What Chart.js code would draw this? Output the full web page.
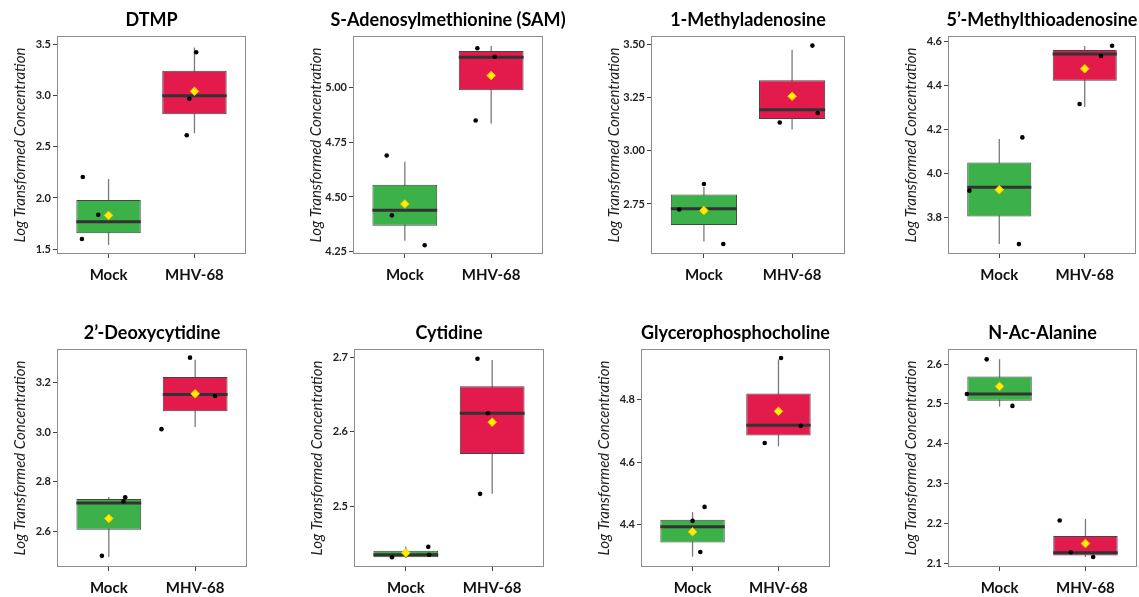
<!DOCTYPE html>
<html>
<head>
<meta charset="utf-8">
<script src="https://cdn.jsdelivr.net/npm/chart.js@4.4.1/dist/chart.umd.min.js"></script>
<style>
  html, body { margin: 0; padding: 0; background: #fff; overflow: hidden; }
  .panel { position: absolute; }
</style>
</head>
<body>
<script>
const groups = ['Mock', 'MHV-68'];
const metabolites = ['DTMP', 'S-Adenosylmethionine (SAM)', '1-Methyladenosine', '5\u2019-Methylthioadenosine',
                     '2\u2019-Deoxycytidine', 'Cytidine', 'Glycerophosphocholine', 'N-Ac-Alanine'];

// y axis range and tick labels per metabolite
const yRange = [[1.454, 3.578], [4.239, 5.237], [2.515, 3.539], [3.632, 4.623],
                [2.456, 3.337], [2.419, 2.711], [4.263, 4.963], [2.090, 2.638]];
const yTickLabels = [
  ['1.5', '2.0', '2.5', '3.0', '3.5'],
  ['4.25', '4.50', '4.75', '5.00'],
  ['2.75', '3.00', '3.25', '3.50'],
  ['3.8', '4.0', '4.2', '4.4', '4.6'],
  ['2.6', '2.8', '3.0', '3.2'],
  ['2.5', '2.6', '2.7'],
  ['4.4', '4.6', '4.8'],
  ['2.1', '2.2', '2.3', '2.4', '2.5', '2.6']
];

// box summaries, [Mock, MHV-68] for each metabolite
const whiskerLow  = [[1.542, 2.630], [4.300, 4.835], [2.574, 3.100], [3.677, 4.300],
                     [2.496, 3.022], [2.431, 2.517], [4.296, 4.650], [2.493, 2.115]];
const lowerHinge  = [[1.656, 2.815], [4.368, 4.989], [2.651, 3.149], [3.803, 4.420],
                     [2.607, 3.085], [2.4322, 2.5705], [4.342, 4.685], [2.508, 2.119]];
const medians     = [[1.769, 2.996], [4.439, 5.140], [2.728, 3.193], [3.935, 4.541],
                     [2.715, 3.153], [2.4353, 2.625], [4.392, 4.718], [2.525, 2.126]];
const upperHinge  = [[1.980, 3.240], [4.556, 5.168], [2.794, 3.331], [4.048, 4.559],
                     [2.731, 3.224], [2.4407, 2.661], [4.415, 4.820], [2.569, 2.168]];
const whiskerHigh = [[2.185, 3.466], [4.661, 5.191], [2.830, 3.475], [4.155, 4.577],
                     [2.739, 3.294], [2.4465, 2.6964], [4.440, 4.929], [2.6125, 2.211]];
const means       = [[1.830, 3.039], [4.468, 5.056], [2.719, 3.256], [3.924, 4.474],
                     [2.652, 3.156], [2.438, 2.613], [4.376, 4.763], [2.544, 2.149]];

// individual samples: jittered x position and value
const sampleX = [
  [[0.70, 0.88, 0.69], [2.02, 1.94, 1.91]],
  [[0.79, 0.85, 1.23], [1.84, 2.04, 1.82]],
  [[0.72, 1.00, 1.22], [2.23, 1.86, 2.29]],
  [[0.65, 1.27, 1.23], [2.32, 2.19, 1.94]],
  [[0.92, 1.19, 1.17], [1.94, 2.23, 1.61]],
  [[0.84, 1.26, 1.27], [1.83, 1.95, 1.86]],
  [[1.00, 1.14, 1.09], [2.03, 2.26, 1.84]],
  [[0.62, 0.85, 1.15], [1.70, 1.83, 2.09]]
];
const sampleY = [
  [[2.204, 1.837, 1.600], [3.419, 2.967, 2.611]],
  [[4.690, 4.416, 4.279], [5.181, 5.142, 4.850]],
  [[2.724, 2.844, 2.562], [3.494, 3.133, 3.177]],
  [[3.920, 4.162, 3.677], [4.579, 4.532, 4.314]],
  [[2.501, 2.738, 2.722], [3.302, 3.147, 3.013]],
  [[2.432, 2.446, 2.4355], [2.698, 2.625, 2.517]],
  [[4.411, 4.456, 4.311], [4.934, 4.716, 4.661]],
  [[2.525, 2.612, 2.495], [2.207, 2.127, 2.115]]
];

const boxColors = ['#3cb149', '#e21b4c'];
const BOX_W = 0.75;

// plot area left/right edge of each panel and top of its canvas
const panelX = [[57, 246], [353, 543], [651, 845], [948, 1136],
                [57, 247], [354, 544], [641, 830], [948, 1137]];
const panelTop = [0, 0, 0, 0, 313, 313, 313, 313];
const AXIS_W = 56, AXIS_H = 30, CANVAS_H = 284, TITLE_H = 36;

// grey frame around the plotting region
const frame = {
  id: 'frame',
  afterDatasetsDraw(chart) {
    const a = chart.chartArea, c = chart.ctx;
    c.save();
    c.strokeStyle = '#8c8c8c';
    c.lineWidth = 1;
    c.strokeRect(Math.round(a.left) + 0.5, Math.round(a.top) + 0.5,
                 Math.round(a.right - a.left) - 1, Math.round(a.bottom - a.top) - 1);
    c.restore();
  }
};

// panel heading, centred over the plot area (it may run wider than the plot)
const heading = {
  id: 'heading',
  afterDraw(chart, args, opts) {
    const a = chart.chartArea, c = chart.ctx;
    c.save();
    c.font = 'bold 18px Lato';
    c.fillStyle = '#000';
    c.textAlign = 'center';
    c.textBaseline = 'middle';
    c.fillText(opts.text, (a.left + a.right) / 2, 20);
    c.restore();
  }
};

metabolites.forEach((name, i) => {
  const [l, r] = panelX[i];
  const div = document.createElement('div');
  div.className = 'panel';
  div.style.left = (l - AXIS_W) + 'px';
  div.style.top = panelTop[i] + 'px';
  div.style.width = (r - l + AXIS_W + 40) + 'px';
  div.style.height = CANVAS_H + 'px';
  const cv = document.createElement('canvas');
  div.appendChild(cv);
  document.body.appendChild(div);

  const datasets = [];
  groups.forEach((g, k) => {
    const x = k + 1;
    datasets.push({
      type: 'scatter', order: 0,
      data: [{x: x, y: means[i][k]}],
      pointStyle: 'rectRot', pointRadius: 4.3,
      backgroundColor: '#ffee00', borderColor: '#f2c400', borderWidth: 1
    });
    datasets.push({
      type: 'scatter', order: 1,
      data: sampleY[i][k].map((v, j) => ({x: sampleX[i][k][j], y: v})),
      pointRadius: 2.3, backgroundColor: '#000', borderWidth: 0
    });
    datasets.push({
      type: 'line', order: 2,
      data: [{x: x - BOX_W / 2, y: medians[i][k]}, {x: x + BOX_W / 2, y: medians[i][k]}],
      borderColor: '#333', borderWidth: 3, pointRadius: 0
    });
    datasets.push({
      type: 'line', order: 4,
      data: [{x: x, y: whiskerLow[i][k]}, {x: x, y: whiskerHigh[i][k]}],
      borderColor: '#7a7a7a', borderWidth: 1.3, pointRadius: 0
    });
  });
  datasets.push({
    type: 'bar', order: 3,
    data: groups.map((g, k) => ({x: k + 1, y: [lowerHinge[i][k], upperHinge[i][k]]})),
    backgroundColor: boxColors, borderColor: '#454545', borderWidth: 1, borderSkipped: false,
    barPercentage: BOX_W, categoryPercentage: 1
  });

  new Chart(cv, {
    type: 'bar',
    data: { datasets: datasets },
    options: {
      responsive: true,
      maintainAspectRatio: false,
      animation: false,
      layout: { padding: { left: 0, right: 40, top: TITLE_H, bottom: 0 } },
      plugins: {
        legend: { display: false },
        tooltip: { enabled: false },
        heading: { text: name }
      },
      scales: {
        x: {
          type: 'linear', min: 0.4, max: 2.6, offset: false,
          afterBuildTicks: s => { s.ticks = groups.map((g, k) => ({value: k + 1})); },
          afterFit: s => { s.height = AXIS_H; },
          grid: { drawOnChartArea: false, offset: false, tickLength: 4, tickColor: '#444' },
          border: { display: false },
          ticks: {
            callback: v => groups[v - 1],
            font: { family: 'Lato', size: 15, weight: 'bold' },
            color: '#111', padding: 8, maxRotation: 0, autoSkip: false
          }
        },
        y: {
          min: yRange[i][0], max: yRange[i][1],
          afterBuildTicks: s => { s.ticks = yTickLabels[i].map(t => ({value: parseFloat(t)})); },
          afterFit: s => { s.width = AXIS_W; },
          grid: { drawOnChartArea: false, tickLength: 4, tickColor: '#444' },
          border: { display: false },
          ticks: {
            callback: (v, idx) => yTickLabels[i][idx],
            font: { family: 'Lato', size: 11, weight: 'bold' },
            color: '#222', padding: 2
          },
          title: {
            display: true, text: 'Log Transformed Concentration',
            font: { family: 'Lato', size: 15, style: 'italic' },
            color: '#222', padding: { top: 10, bottom: 0 }
          }
        }
      }
    },
    plugins: [frame, heading]
  });
});
</script>
</body>
</html>
